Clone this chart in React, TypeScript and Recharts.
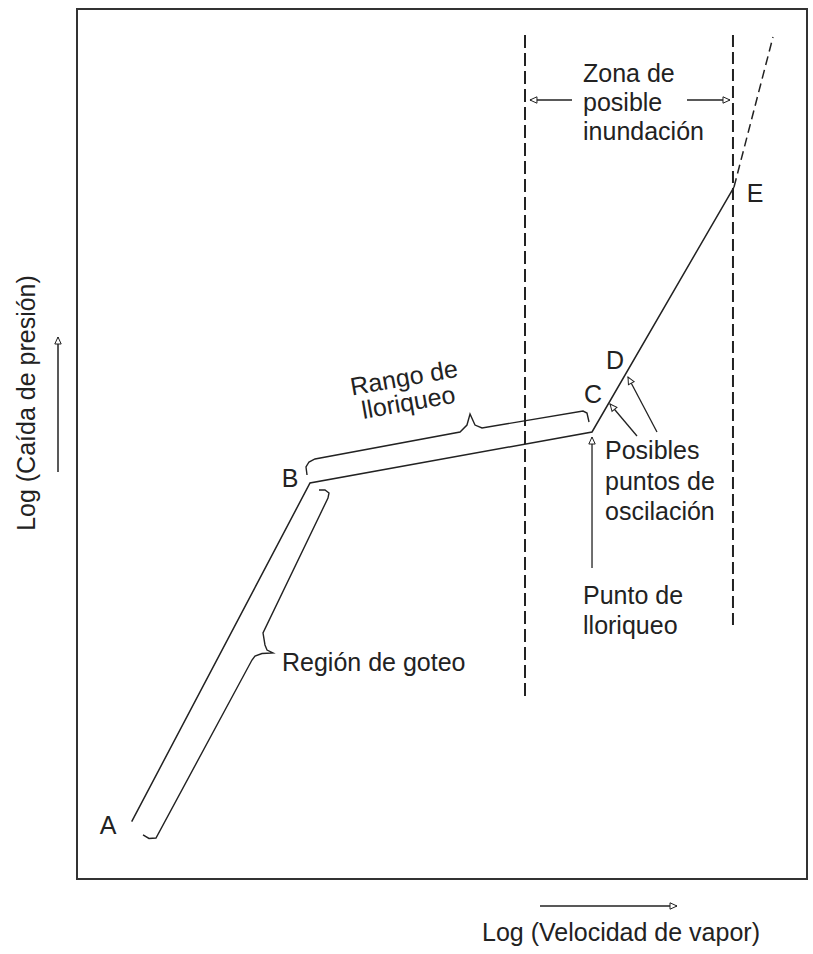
import { ComposedChart, XAxis, YAxis, Line, ReferenceArea, ReferenceDot } from "recharts";

const FONT = '"Liberation Sans", Arial, sans-serif';
const INK = "#222";

// curve A-B-C-E, log scale units 0..100 on both axes
const pressureCurve = [
  { x: 7.49, y: 6.59 },
  { x: 31.92, y: 45.52 },
  { x: 70.55, y: 51.38 },
  { x: 90.0, y: 79.54 },
];
const floodExtension = [
  { x: 90.0, y: 79.54 },
  { x: 95.34, y: 96.78 },
];
const zoneLeftBound = [
  { x: 61.37, y: 97.0 },
  { x: 61.37, y: 20.92 },
];
const zoneRightBound = [
  { x: 89.86, y: 97.0 },
  { x: 89.86, y: 29.2 },
];

// braces
const drippingBrace = [
  { x: 9.04, y: 5.06 },
  { x: 9.86, y: 4.66 },
  { x: 10.82, y: 4.71 },
  { x: 23.97, y: 25.17 },
  { x: 24.38, y: 25.63 },
  { x: 25.34, y: 25.92 },
  { x: 26.85, y: 25.98 },
  { x: 26.03, y: 26.32 },
  { x: 25.75, y: 26.9 },
  { x: 25.48, y: 28.28 },
  { x: 34.38, y: 43.79 },
  { x: 34.52, y: 44.37 },
  { x: 33.97, y: 44.71 },
  { x: 33.15, y: 44.71 },
];
const weepingBrace = [
  { x: 31.51, y: 46.44 },
  { x: 31.37, y: 47.36 },
  { x: 31.78, y: 47.93 },
  { x: 32.6, y: 48.28 },
  { x: 52.47, y: 51.38 },
  { x: 53.42, y: 52.18 },
  { x: 53.84, y: 53.45 },
  { x: 54.52, y: 52.18 },
  { x: 55.48, y: 51.84 },
  { x: 69.32, y: 53.79 },
  { x: 69.86, y: 53.56 },
  { x: 70.14, y: 52.53 },
];

// arrows (tail -> head)
const zoneArrowLeft = [
  { x: 67.81, y: 89.54 },
  { x: 62.05, y: 89.54 },
];
const zoneArrowRight = [
  { x: 83.56, y: 89.54 },
  { x: 89.45, y: 89.54 },
];
const weepPointArrow = [
  { x: 70.55, y: 35.75 },
  { x: 70.55, y: 50.8 },
];
const oscArrowLow = [
  { x: 76.71, y: 50.92 },
  { x: 73.01, y: 54.6 },
];
const oscArrowHigh = [
  { x: 79.45, y: 51.38 },
  { x: 75.48, y: 57.7 },
];

const pointLabels = [
  { name: "A", x: 4.25, y: 6.21 },
  { name: "B", x: 29.18, y: 46.09 },
  { name: "C", x: 70.68, y: 55.75 },
  { name: "D", x: 73.7, y: 59.66 },
  { name: "E", x: 92.88, y: 78.85 },
];

const notes = [
  { lines: ["Región de goteo"], x: 28.08, y: 24.94, gap: 0 },
  { lines: ["Zona de", "posible", "inundación"], x: 69.32, y: 92.64, gap: 29 },
  { lines: ["Posibles", "puntos de", "oscilación"], x: 72.33, y: 49.31, gap: 30.5 },
  { lines: ["Punto de", "lloriqueo"], x: 69.32, y: 32.64, gap: 30 },
];
const weepRangeNote = { lines: ["Rango de", "lloriqueo"], x: 45.07, y: 56.32 };

const arrowHead = (cx: number, cy: number, ang: number, key?: string) => (
  <path
    key={key}
    d="M0,0 L-7,-3.2 L-7,3.2 Z"
    transform={`translate(${cx},${cy}) rotate(${ang})`}
    fill="#fff"
    stroke={INK}
    strokeWidth={1}
  />
);

const arrowDot = (p: any) => {
  const { index, points, cx, cy } = p;
  if (!points || index !== points.length - 1) return <g key={`d-${index}`} />;
  const prev = points[index - 1];
  const ang = (Math.atan2(cy - prev.y, cx - prev.x) * 180) / Math.PI;
  return arrowHead(cx, cy, ang, `d-${index}`);
};

const XLabel = (props: any) => {
  const { x, y } = props.viewBox;
  const ay = y + 27;
  return (
    <g>
      <line x1={x + 463} y1={ay} x2={x + 600} y2={ay} stroke={INK} strokeWidth={1.5} />
      {arrowHead(x + 600, ay, 0)}
      <text x={x + 544} y={y + 53} textAnchor="middle" dominantBaseline="central"
        fontFamily={FONT} fontSize={25} fill={INK}>
        Log (Velocidad de vapor)
      </text>
    </g>
  );
};

const YLabel = (props: any) => {
  const { x, y } = props.viewBox;
  const ax = x + 58;
  return (
    <g>
      <line x1={ax} y1={y + 463} x2={ax} y2={y + 328} stroke={INK} strokeWidth={1.5} />
      {arrowHead(ax, y + 328, -90)}
      <text x={x + 26} y={y + 394} textAnchor="middle" dominantBaseline="central"
        transform={`rotate(-90 ${x + 26} ${y + 394})`}
        fontFamily={FONT} fontSize={25} fill={INK}>
        Log (Caída de presión)
      </text>
    </g>
  );
};

const segments = [
  { id: "curve", data: pressureCurve, dash: undefined, w: 1.5 },
  { id: "flood", data: floodExtension, dash: "9 5", w: 1.5 },
  { id: "zoneL", data: zoneLeftBound, dash: "13 5", w: 2 },
  { id: "zoneR", data: zoneRightBound, dash: "12 5", w: 2 },
  { id: "brace1", data: drippingBrace, dash: undefined, w: 1.4 },
  { id: "brace2", data: weepingBrace, dash: undefined, w: 1.4 },
];
const arrows = [
  { id: "arrZL", data: zoneArrowLeft },
  { id: "arrZR", data: zoneArrowRight },
  { id: "arrWP", data: weepPointArrow },
  { id: "arrO1", data: oscArrowLow },
  { id: "arrO2", data: oscArrowHigh },
];

export default function App() {
  return (
    <div style={{ position: "absolute", left: 0, top: 0 }}>
      <ComposedChart width={813} height={954} margin={{ top: 9, right: 6, bottom: 0, left: 0 }}>
        <XAxis
          type="number"
          dataKey="x"
          domain={[0, 100]}
          height={75}
          tick={false}
          tickLine={false}
          axisLine={false}
          label={<XLabel />}
        />
        <YAxis
          type="number"
          dataKey="y"
          domain={[0, 100]}
          width={77}
          tick={false}
          tickLine={false}
          axisLine={false}
          label={<YLabel />}
        />
        <ReferenceArea x1={0} x2={100} y1={0} y2={100} fill="none" stroke="#333" strokeWidth={2} ifOverflow="visible" />
        {segments.map((s) => (
          <Line
            key={s.id}
            data={s.data}
            dataKey="y"
            type="linear"
            stroke={INK}
            strokeWidth={s.w}
            strokeDasharray={s.dash}
            dot={false}
            activeDot={false}
            isAnimationActive={false}
          />
        ))}
        {arrows.map((a) => (
          <Line
            key={a.id}
            data={a.data}
            dataKey="y"
            type="linear"
            stroke={INK}
            strokeWidth={1.3}
            dot={arrowDot}
            activeDot={false}
            isAnimationActive={false}
          />
        ))}
        {pointLabels.map((p) => (
          <ReferenceDot
            key={p.name}
            x={p.x}
            y={p.y}
            r={0}
            shape={(s: any) => (
              <text x={s.cx} y={s.cy} textAnchor="middle" dominantBaseline="central"
                fontFamily={FONT} fontSize={25} fill={INK}>
                {p.name}
              </text>
            )}
          />
        ))}
        {notes.map((n) => (
          <ReferenceDot
            key={n.lines[0]}
            x={n.x}
            y={n.y}
            r={0}
            shape={(s: any) => (
              <text fontFamily={FONT} fontSize={25} fill={INK} dominantBaseline="central">
                {n.lines.map((l, i) => (
                  <tspan key={l} x={s.cx} y={s.cy + i * n.gap}>
                    {l}
                  </tspan>
                ))}
              </text>
            )}
          />
        ))}
        <ReferenceDot
          x={weepRangeNote.x}
          y={weepRangeNote.y}
          r={0}
          shape={(s: any) => (
            <text fontFamily={FONT} fontSize={25} fill={INK} textAnchor="middle" dominantBaseline="central"
              transform={`rotate(-10 ${s.cx} ${s.cy})`}>
              <tspan x={s.cx} y={s.cy - 12}>{weepRangeNote.lines[0]}</tspan>
              <tspan x={s.cx} y={s.cy + 13}>{weepRangeNote.lines[1]}</tspan>
            </text>
          )}
        />
      </ComposedChart>
    </div>
  );
}
